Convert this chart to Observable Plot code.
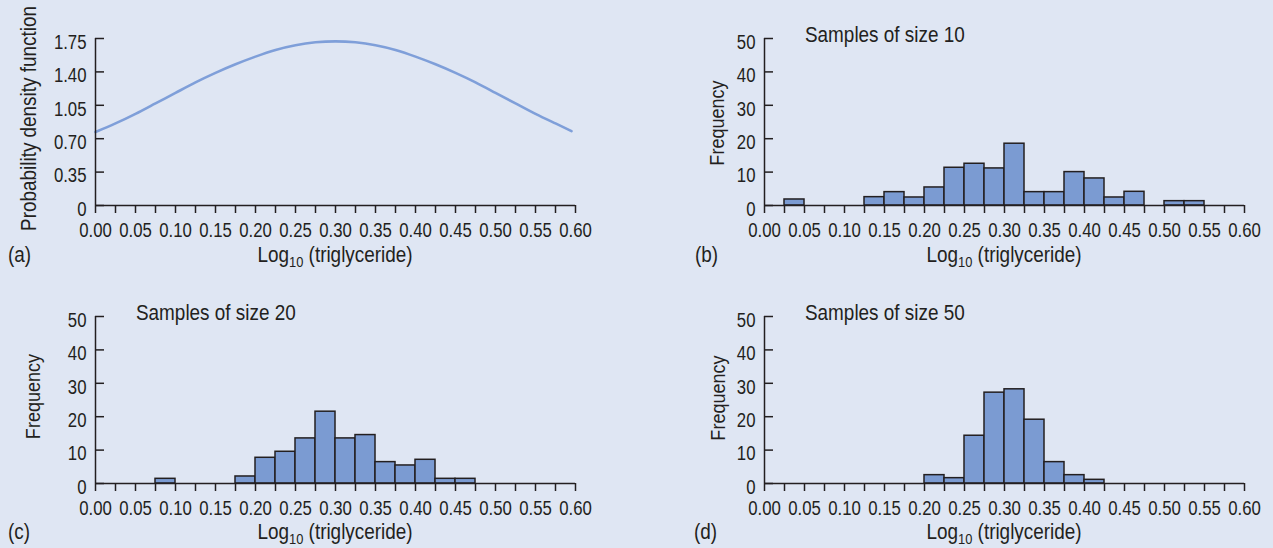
<!DOCTYPE html>
<html><head><meta charset="utf-8">
<script src="https://cdn.jsdelivr.net/npm/d3@7"></script>
<script src="https://cdn.jsdelivr.net/npm/@observablehq/plot@0.6"></script>
<style>
html,body{margin:0;padding:0;}
body{width:1273px;height:548px;background:#dfe6f3;position:relative;overflow:hidden;}
.panel{position:absolute;}
.panel svg{overflow:visible;}
</style></head>
<body>
<div id="pa" class="panel" style="left:0px;top:-1px"></div>
<div id="pb" class="panel" style="left:669px;top:-1px"></div>
<div id="pc" class="panel" style="left:0px;top:277px"></div>
<div id="pd" class="panel" style="left:669px;top:277px"></div>
<script>
const FONT = '"Liberation Sans",Arial,Helvetica,sans-serif';
const SQUEEZE = 0.86;   // horizontal condensing to mimic a condensed face
const INK = "#231f20";
const BAR_FILL = "#7b9bd2";
const LINE = "#7f9fd9";

// axis ticks
const xMinorTicks = [0,0.025,0.05,0.075,0.1,0.125,0.15,0.175,0.2,0.225,0.25,0.275,0.3,0.325,0.35,0.375,0.4,0.425,0.45,0.475,0.5,0.525,0.55,0.575,0.6];
const xMajorTicks = [0,0.05,0.1,0.15,0.2,0.25,0.3,0.35,0.4,0.45,0.5,0.55,0.6];
const xTickLabels = ["0.00","0.05","0.10","0.15","0.20","0.25","0.30","0.35","0.40","0.45","0.50","0.55","0.60"];
const pdfTicks = [0,0.35,0.7,1.05,1.4,1.75];
const pdfTickLabels = ["0","0.35","0.70","1.05","1.40","1.75"];
const freqTicks = [0,10,20,30,40,50];
const freqTickLabels = ["0","10","20","30","40","50"];

// panel (a): density curve
const pdfX = [0,0.025,0.05,0.075,0.1,0.125,0.15,0.175,0.2,0.225,0.25,0.275,0.3,0.325,0.35,0.375,0.4,0.425,0.45,0.475,0.5,0.525,0.55,0.575,0.595];
const pdfY = [0.77,0.86,0.96,1.07,1.18,1.29,1.39,1.48,1.56,1.63,1.68,1.71,1.72,1.71,1.68,1.63,1.56,1.48,1.39,1.29,1.18,1.07,0.96,0.86,0.78];

// histograms: bin left edges and frequencies
const binWidth = 0.025;
const binsB = [0.025,0.125,0.15,0.175,0.2,0.225,0.25,0.275,0.3,0.325,0.35,0.375,0.4,0.425,0.45,0.5,0.525];
const freqB = [1.8,2.5,4.0,2.4,5.4,11.3,12.5,11.1,18.5,4.0,4.0,10.0,8.1,2.4,4.1,1.3,1.3];
const binsC = [0.075,0.175,0.2,0.225,0.25,0.275,0.3,0.325,0.35,0.375,0.4,0.425,0.45];
const freqC = [1.4,2.1,7.7,9.5,13.5,21.5,13.5,14.5,6.4,5.4,7.1,1.4,1.4];
const binsD = [0.2,0.225,0.25,0.275,0.3,0.325,0.35,0.375,0.4];
const freqD = [2.5,1.6,14.3,27.2,28.2,19.1,6.4,2.5,1.1];

const titles = ["Samples of size 10","Samples of size 20","Samples of size 50"];

function hist(bins, freq) {
  return Plot.rectY(bins.map((lo, i) => ({x1: lo, x2: lo + binWidth, y: freq[i]})),
    {x1: "x1", x2: "x2", y: "y", fill: BAR_FILL, stroke: INK, strokeWidth: 1.5, inset: 0});
}

function panel(cfg) {
  const labelOf = (ticks, labels) => d => labels[ticks.findIndex(t => Math.abs(t - d) < 1e-9)];
  const svg = Plot.plot({
    width: 600, height: 270,
    marginLeft: 95, marginRight: 25, marginTop: 39, marginBottom: 64,
    style: {background: "transparent", fontFamily: FONT, fontSize: "19.5px", color: INK, overflow: "visible"},
    x: {domain: [0, 0.6]},
    y: {domain: cfg.yDomain},
    marks: [
      ...cfg.marks,
      Plot.ruleY([0], {stroke: INK, strokeWidth: 1.5}),
      Plot.ruleX([0], {stroke: INK, strokeWidth: 1.5}),
      Plot.axisX(xMinorTicks, {tickSize: 8, tickFormat: () => "", label: null, stroke: INK, strokeWidth: 1.5}),
      Plot.axisX(xMajorTicks, {tickSize: 0, tickPadding: 18, tickFormat: labelOf(xMajorTicks, xTickLabels), label: null, fill: INK}),
      Plot.axisY(cfg.yTicks, {tickSize: -9, tickFormat: () => "", label: null, stroke: INK, strokeWidth: 1.5}),
      Plot.axisY(cfg.yTicks, {tickSize: 0, tickPadding: 9, dy: 4, tickFormat: labelOf(cfg.yTicks, cfg.yLabels), label: null, fill: INK})
    ]
  });
  const s = d3.select(svg);
  // condense the tick labels horizontally around their anchors
  s.selectAll("text").each(function() {
    const tr = this.getAttribute("transform") || "";
    this.setAttribute("transform", tr + ` scale(${SQUEEZE},1)`);
  });
  const t = s.append("g").attr("font-family", FONT).attr("fill", INK);
  // y axis title
  t.append("text")
    .attr("transform", `translate(${cfg.yTitleX},${cfg.yTitleY}) rotate(-90) scale(${SQUEEZE},1)`)
    .attr("text-anchor", "middle").attr("dominant-baseline", "central")
    .attr("font-size", cfg.yTitleSize).text(cfg.yTitle);
  // x axis title with subscript
  const xt = t.append("text").attr("transform", `translate(335,${cfg.xTitleY}) scale(${SQUEEZE},1)`)
    .attr("text-anchor", "middle").attr("font-size", 22);
  xt.append("tspan").text("Log");
  xt.append("tspan").attr("dy", 5).attr("font-size", 15).text("10");
  xt.append("tspan").attr("dy", -5).text(" (triglyceride)");
  // panel letter
  t.append("text").attr("transform", `translate(${cfg.letterX},${cfg.xTitleY}) scale(${SQUEEZE},1)`)
    .attr("text-anchor", "start").attr("font-size", 22).text(cfg.letter);
  // panel title
  if (cfg.title) {
    t.append("text").attr("transform", `translate(136,43) scale(${SQUEEZE},1)`)
      .attr("text-anchor", "start").attr("font-size", 22).text(cfg.title);
  }
  document.getElementById(cfg.el).appendChild(svg);
}

panel({
  el: "pa", yDomain: [0, 1.75], yTicks: pdfTicks, yLabels: pdfTickLabels,
  yTitle: "Probability density function", yTitleX: 28, yTitleY: 119.5, yTitleSize: 22,
  xTitleY: 263, letter: "(a)", letterX: 8, title: null,
  marks: [Plot.line(pdfX.map((x, i) => ({x, y: pdfY[i]})), {x: "x", y: "y", stroke: LINE, strokeWidth: 2.6, curve: "natural"})]
});
panel({
  el: "pb", yDomain: [0, 50], yTicks: freqTicks, yLabels: freqTickLabels,
  yTitle: "Frequency", yTitleX: 47, yTitleY: 124, yTitleSize: 21,
  xTitleY: 263, letter: "(b)", letterX: 26, title: titles[0],
  marks: [hist(binsB, freqB)]
});
panel({
  el: "pc", yDomain: [0, 50], yTicks: freqTicks, yLabels: freqTickLabels,
  yTitle: "Frequency", yTitleX: 32, yTitleY: 119.5, yTitleSize: 21,
  xTitleY: 262, letter: "(c)", letterX: 8, title: titles[1],
  marks: [hist(binsC, freqC)]
});
panel({
  el: "pd", yDomain: [0, 50], yTicks: freqTicks, yLabels: freqTickLabels,
  yTitle: "Frequency", yTitleX: 48, yTitleY: 121, yTitleSize: 21,
  xTitleY: 262, letter: "(d)", letterX: 25, title: titles[2],
  marks: [hist(binsD, freqD)]
});
</script>
</body></html>
